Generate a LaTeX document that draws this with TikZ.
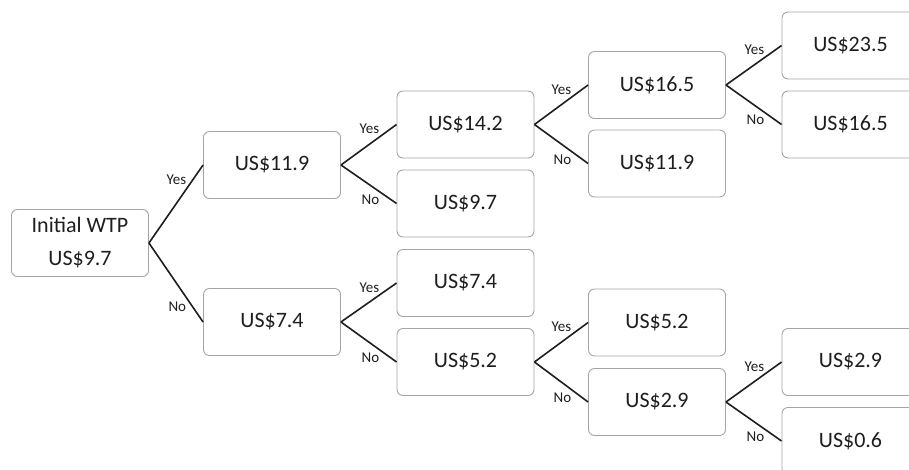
\documentclass[tikz,border=0pt]{standalone}
\usepackage{fontspec}
\setmainfont{Carlito}
\definecolor{boxgray}{RGB}{165,165,165}
\definecolor{txt}{RGB}{30,30,30}
\begin{document}
\begin{tikzpicture}[x=1pt,y=-1pt,
  box/.style={draw=boxgray, line width=0.9pt, rounded corners=6pt, minimum width=137pt, minimum height=67pt, inner sep=0pt, font=\fontsize{22}{33}\selectfont, text=txt, align=center},
  conn/.style={line width=1.6pt, draw=txt},
  lyes/.style={pos=0.72, anchor=south east, inner sep=1pt, font=\fontsize{15}{18}\selectfont, text=txt},
  lno/.style={pos=0.72, anchor=north east, inner sep=1pt, font=\fontsize{15}{18}\selectfont, text=txt}]
\useasboundingbox (0,0) rectangle (909,469);
\node[box] (r) at (80,243) {Initial WTP\\US\$9.7};
\node[box] (a) at (272,165) {US\$11.9};
\node[box] (b) at (272,322) {US\$7.4};
\node[box] (aa) at (465.5,124.5) {US\$14.2};
\node[box] (ab) at (465.5,203.5) {US\$9.7};
\node[box] (ba) at (465.5,283) {US\$7.4};
\node[box] (bb) at (465.5,362) {US\$5.2};
\node[box] (aaa) at (657,85) {US\$16.5};
\node[box] (aab) at (657,163.5) {US\$11.9};
\node[box] (bba) at (657,322.5) {US\$5.2};
\node[box] (bbb) at (657,402) {US\$2.9};
\node[box] (aaaa) at (850.5,45.5) {US\$23.5};
\node[box] (aaab) at (850.5,124.5) {US\$16.5};
\node[box] (bbba) at (850.5,362) {US\$2.9};
\node[box] (bbbb) at (850.5,441) {US\$0.6};
\draw[conn] (r.east) -- node[lyes]{Yes} (a.west);
\draw[conn] (r.east) -- node[lno]{No} (b.west);
\draw[conn] (a.east) -- node[lyes]{Yes} (aa.west);
\draw[conn] (a.east) -- node[lno]{No} (ab.west);
\draw[conn] (b.east) -- node[lyes]{Yes} (ba.west);
\draw[conn] (b.east) -- node[lno]{No} (bb.west);
\draw[conn] (aa.east) -- node[lyes]{Yes} (aaa.west);
\draw[conn] (aa.east) -- node[lno]{No} (aab.west);
\draw[conn] (bb.east) -- node[lyes]{Yes} (bba.west);
\draw[conn] (bb.east) -- node[lno]{No} (bbb.west);
\draw[conn] (aaa.east) -- node[lyes]{Yes} (aaaa.west);
\draw[conn] (aaa.east) -- node[lno]{No} (aaab.west);
\draw[conn] (bbb.east) -- node[lyes]{Yes} (bbba.west);
\draw[conn] (bbb.east) -- node[lno]{No} (bbbb.west);
\end{tikzpicture}
\end{document}
